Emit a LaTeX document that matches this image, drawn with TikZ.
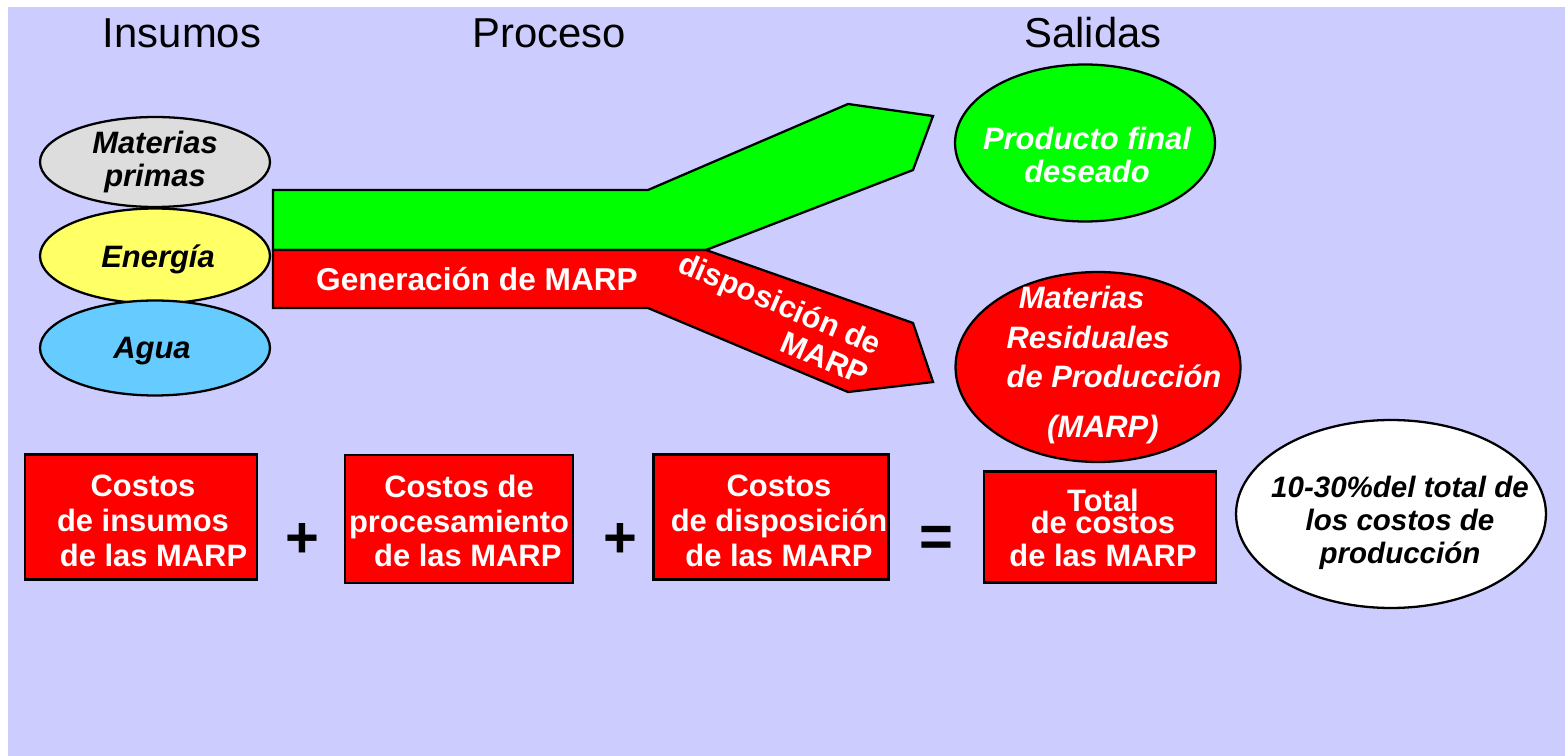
\documentclass[tikz,border=0pt]{standalone}
\usepackage{fontspec}
\setmainfont{Liberation Sans}
\usetikzlibrary{positioning,shapes.geometric}
\definecolor{fondo}{HTML}{CCCCFF}
\definecolor{verde}{HTML}{00FF00}
\definecolor{rojo}{HTML}{FF0000}
\definecolor{gris}{HTML}{DDDDDD}
\definecolor{amarillo}{HTML}{FFFF66}
\definecolor{celeste}{HTML}{66CCFF}

\begin{document}
\begin{tikzpicture}[x=0.02cm, y=-0.02cm,
  elipse/.style={ellipse, draw, line width=1.3pt, inner sep=0pt},
  caja/.style={rectangle, draw, line width=1.3pt, fill=rojo, inner sep=0pt},
  cajatxt/.style={text=white, align=center, font=\bfseries\fontsize{17.6}{19.8}\selectfont},
  titulo/.style={font=\fontsize{23.8}{28}\selectfont},
  etiq/.style={font=\bfseries\itshape\fontsize{17.6}{18.7}\selectfont, align=center},
  signo/.style={font=\bfseries\fontsize{33}{36}\selectfont},
  flujo/.style={draw, line width=1.3pt, line join=miter}]

\useasboundingbox (0,0) rectangle (1565,756);
\fill[fondo] (8,7) rectangle (1565,756);

\node[titulo] (ins) at (182,33) {Insumos};
\node[titulo] (pro) at (549,33) {Proceso};
\node[titulo] (sal) at (1093,33) {Salidas};

\node[elipse, fill=gris, minimum width=4.6cm, minimum height=1.8cm] (mp) at (155,162) {};
\node[etiq] (mpt) at (mp) {Materias\\primas};
\node[elipse, fill=amarillo, minimum width=4.6cm, minimum height=1.9cm] (en) at (155,256) {};
\node[etiq] (ent) at (158,259) {Energía};
\node[elipse, fill=celeste, minimum width=4.6cm, minimum height=1.9cm] (ag) at (155,348) {};
\node[etiq] (agt) at (152,351) {Agua};

\draw[flujo, fill=verde] (273,190) -- (648,190) -- (848,104) -- (933,116) -- (913,170) -- (706,250) -- (273,250) -- cycle;
\draw[flujo, fill=rojo] (273,250) -- (706,250) -- (913,323) -- (933,382) -- (848,392) -- (648,308) -- (273,308) -- cycle;

\node[text=white, font=\bfseries\fontsize{18}{21}\selectfont] (gen) at (477,279) {Generación de MARP};
\node[text=white, font=\bfseries\fontsize{17.6}{18.7}\selectfont, align=right, rotate=-23] (dis) at (774,318) {disposición de\\MARP};

\node[elipse, fill=verde, minimum width=5.2cm, minimum height=3.14cm] (pf) at (1085,143) {};
\node[etiq, text=white] (pft) at (1087,155) {Producto final\\deseado};
\node[elipse, fill=rojo, minimum width=5.7cm, minimum height=3.8cm] (mr) at (1098,367) {};
\node[etiq, text=white, align=left, font=\bfseries\itshape\fontsize{17.6}{22.7}\selectfont] (mrt) at (1114,365)
  {\hspace{7pt}Materias\\Residuales\\de Producción\\[5.7pt]\hspace{23pt}(MARP)};

\node[caja, minimum width=4.64cm, minimum height=2.5cm] (c1) at (141,517) {};
\node[cajatxt] (c1t) at (143,521) {Costos\\de insumos\\\hspace{12pt}de las MARP};
\node[signo] (s1) at (302,541) {+};
\node[caja, minimum width=4.56cm, minimum height=2.56cm] (c2) at (459,519) {};
\node[cajatxt] (c2t) at (459,521) {Costos de\\procesamiento\\\hspace{10pt}de las MARP};
\node[signo] (s2) at (620,541) {+};
\node[caja, minimum width=4.7cm, minimum height=2.5cm] (c3) at (771,517) {};
\node[cajatxt] (c3t) at (779,521) {Costos\\de disposición\\de las MARP};
\node[signo] (s3) at (936,541) {=};
\node[caja, minimum width=4.64cm, minimum height=2.22cm] (c4) at (1100,527) {};
\node[cajatxt] (c4t) at (1103,528) {Total\\[-6.8pt]de costos\\[-1pt]de las MARP};

\node[elipse, fill=white, minimum width=6.2cm, minimum height=3.76cm] (pc) at (1391,514) {};
\node[etiq, font=\bfseries\itshape\fontsize{16.8}{18.7}\selectfont] (pct) at (1400,523) {10-30\%del total de\\los costos de\\producción};

\end{tikzpicture}
\end{document}
